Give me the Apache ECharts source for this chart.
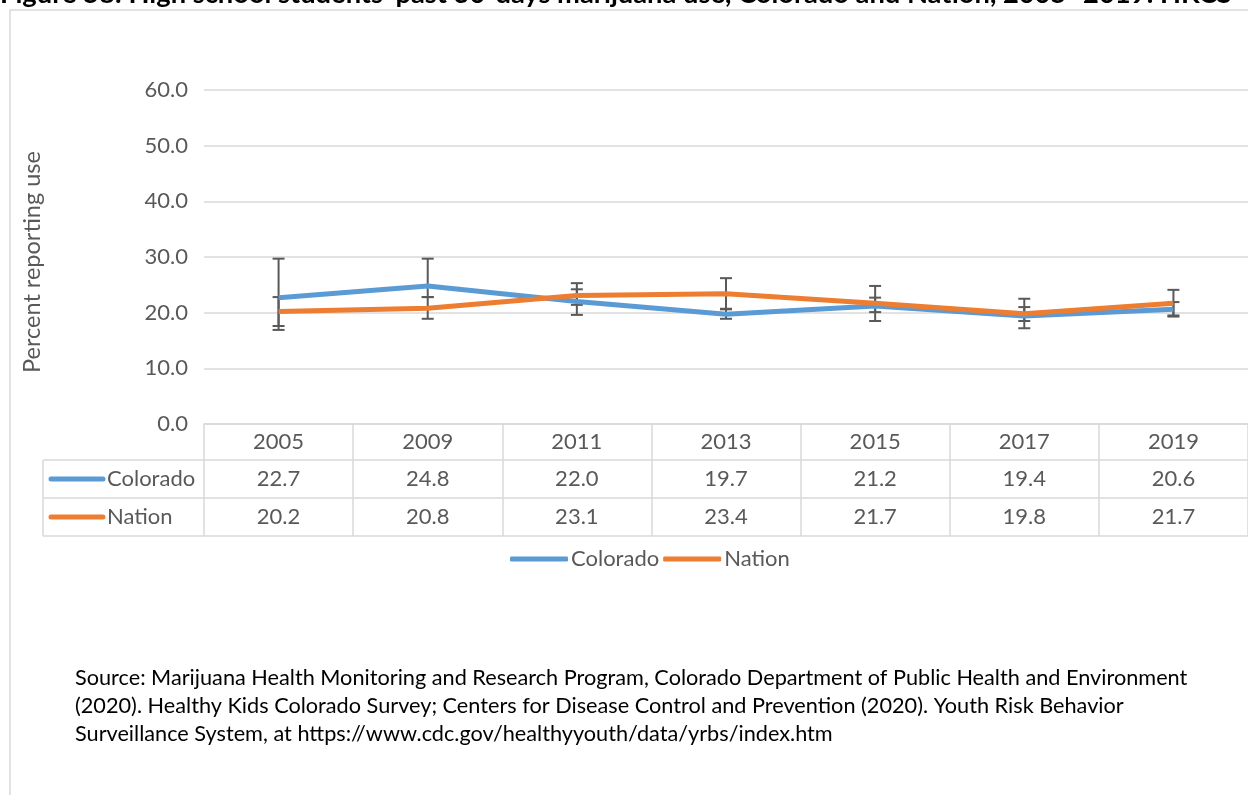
<!DOCTYPE html>
<html>
<head>
<meta charset="utf-8">
<script src="https://cdn.jsdelivr.net/npm/echarts@6/dist/echarts.min.js"></script>
<style>
  html, body { margin: 0; padding: 0; background: #fff; }
  #chart { width: 1248px; height: 795px; }
</style>
</head>
<body>
<div id="chart"></div>
<script>
// data
var years = ["2005", "2009", "2011", "2013", "2015", "2017", "2019"];
var colorado = [22.7, 24.8, 22.0, 19.7, 21.2, 19.4, 20.6];
var nation = [20.2, 20.8, 23.1, 23.4, 21.7, 19.8, 21.7];
// confidence interval ends (estimated from the error bars)
var coloradoLow = [16.9, 22.8, 19.6, 18.9, 18.5, 17.2, 19.3];
var coloradoHigh = [29.7, 29.7, 24.2, 20.6, 24.8, 22.5, 21.9];
var nationLow = [17.6, 18.9, 21.4, 20.7, 20.1, 18.5, 19.5];
var nationHigh = [22.8, 22.8, 25.3, 26.2, 22.7, 21.0, 24.1];

var titleText = "Figure 58: High school students' past 30-days marijuana use, Colorado and Nation, 2005 -2019: HKCS";
var sourceText = "Source: Marijuana Health Monitoring and Research Program, Colorado Department of Public Health and Environment\n" +
  "(2020). Healthy Kids Colorado Survey; Centers for Disease Control and Prevention (2020). Youth Risk Behavior\n" +
  "Surveillance System, at https://www.cdc.gov/healthyyouth/data/yrbs/index.htm";

var blue = "#5b9bd5";
var orange = "#ed7d31";
var gray = "#d9d9d9";
var txt = "#595959";
var font = "Lato";
var fs = 22;

var myChart = echarts.init(document.getElementById("chart"));

function errorBar(params, api) {
  var i = api.value(0);
  var lo = api.coord([i, api.value(1)]);
  var hi = api.coord([i, api.value(2)]);
  var w = 6;
  var st = { stroke: "#595959", lineWidth: 2 };
  return {
    type: "group",
    children: [
      { type: "line", shape: { x1: lo[0], y1: lo[1], x2: hi[0], y2: hi[1] }, style: st },
      { type: "line", shape: { x1: lo[0] - w, y1: lo[1], x2: lo[0] + w, y2: lo[1] }, style: st },
      { type: "line", shape: { x1: hi[0] - w, y1: hi[1], x2: hi[0] + w, y2: hi[1] }, style: st }
    ]
  };
}

function rowAxis(values, offset) {
  return {
    type: "category",
    gridIndex: 0,
    position: "bottom",
    offset: offset,
    data: values.map(function (v) { return v.toFixed(1); }),
    axisLine: { show: false },
    axisTick: { show: false },
    axisLabel: { fontFamily: font, fontSize: fs, color: txt, margin: 7 }
  };
}

var tableLeft = 43, gridLeft = 204, axisY = 424;
var rowYs = [460, 498, 536];

var option = {
  backgroundColor: "#fff",
  animation: false,
  textStyle: { fontFamily: font },
  grid: { left: gridLeft, right: 0, top: 90, bottom: 795 - axisY },
  legend: {
    top: 543,
    left: 505,
    itemGap: 4,
    itemWidth: 58,
    itemHeight: 5,
    icon: "roundRect",
    textStyle: { fontFamily: font, fontSize: fs, color: txt, padding: [0, 0, 0, -2] },
    data: ["Colorado", "Nation"]
  },
  xAxis: [
    {
      type: "category",
      data: years,
      axisLine: { lineStyle: { color: gray, width: 1.5 } },
      axisTick: { show: true, length: 112, lineStyle: { color: gray, width: 1.5 } },
      axisLabel: { fontFamily: font, fontSize: fs, color: txt, margin: 7 }
    },
    rowAxis(colorado, 37),
    rowAxis(nation, 75)
  ],
  yAxis: {
    type: "value",
    min: 0,
    max: 60,
    interval: 10,
    axisLine: { show: false },
    axisTick: { show: false },
    axisLabel: {
      fontFamily: font, fontSize: fs, color: txt, margin: 16,
      formatter: function (v) { return v.toFixed(1); }
    },
    splitLine: { lineStyle: { color: gray, width: 1.5 } }
  },
  series: [
    {
      type: "custom",
      renderItem: errorBar,
      z: 1,
      silent: true,
      data: years.map(function (y, i) { return [i, coloradoLow[i], coloradoHigh[i]]; })
    },
    {
      type: "custom",
      renderItem: errorBar,
      z: 1,
      silent: true,
      data: years.map(function (y, i) { return [i, nationLow[i], nationHigh[i]]; })
    },
    {
      name: "Colorado",
      type: "line",
      data: colorado,
      symbol: "none",
      z: 3,
      itemStyle: { color: blue },
      lineStyle: { color: blue, width: 5 }
    },
    {
      name: "Nation",
      type: "line",
      data: nation,
      symbol: "none",
      z: 4,
      itemStyle: { color: orange },
      lineStyle: { color: orange, width: 5 }
    }
  ],
  graphic: [
    // outer frame
    { type: "rect", shape: { x: 10, y: 10, width: 1400, height: 1000 }, style: { fill: null, stroke: gray, lineWidth: 1.5 }, z: -1 },
    // title, partly cut off at the top as in the source
    { type: "text", x: 0, y: -19, style: { text: titleText, fontFamily: font, fontWeight: "bold", fontSize: 27.3, fill: "#000" } },
    // y axis name
    { type: "text", x: 32, y: 262, rotation: Math.PI / 2, style: { text: "Percent reporting use", fontFamily: font, fontSize: 23.5, fill: txt, align: "center", verticalAlign: "middle" } },
    // table rules
    { type: "line", shape: { x1: tableLeft, y1: rowYs[0], x2: 1248, y2: rowYs[0] }, style: { stroke: gray, lineWidth: 1.5 } },
    { type: "line", shape: { x1: tableLeft, y1: rowYs[1], x2: 1248, y2: rowYs[1] }, style: { stroke: gray, lineWidth: 1.5 } },
    { type: "line", shape: { x1: tableLeft, y1: rowYs[2], x2: 1248, y2: rowYs[2] }, style: { stroke: gray, lineWidth: 1.5 } },
    { type: "line", shape: { x1: tableLeft, y1: rowYs[0], x2: tableLeft, y2: rowYs[2] }, style: { stroke: gray, lineWidth: 1.5 } },
    // row headers
    { type: "line", shape: { x1: 51, y1: 479, x2: 103, y2: 479 }, style: { stroke: blue, lineWidth: 5, lineCap: "round" } },
    { type: "text", x: 107, y: 479, style: { text: "Colorado", fontFamily: font, fontSize: fs, fill: txt, verticalAlign: "middle" } },
    { type: "line", shape: { x1: 51, y1: 517, x2: 103, y2: 517 }, style: { stroke: orange, lineWidth: 5, lineCap: "round" } },
    { type: "text", x: 107, y: 517, style: { text: "Nation", fontFamily: font, fontSize: fs, fill: txt, verticalAlign: "middle" } },
    // source note
    { type: "text", x: 75, y: 664, style: { text: sourceText, fontFamily: font, fontSize: 21.7, lineHeight: 28, fill: "#000" } }
  ]
};

option && myChart.setOption(option);
</script>
</body>
</html>
